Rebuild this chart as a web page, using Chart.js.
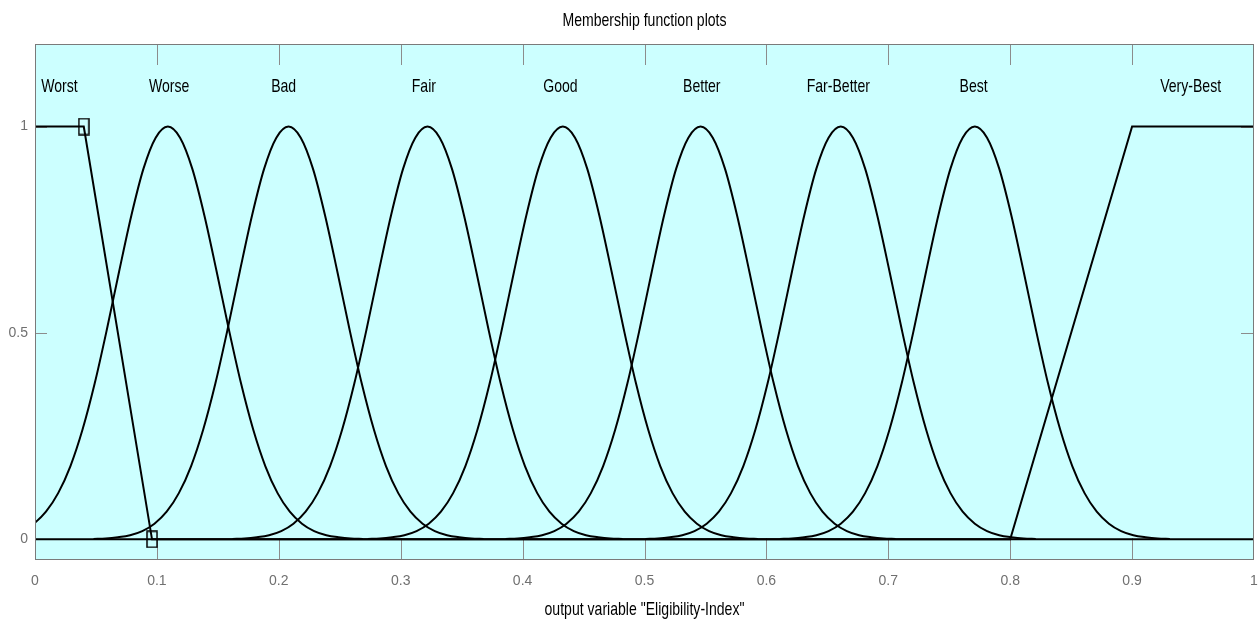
<!DOCTYPE html>
<html>
<head>
<meta charset="utf-8">
<title>Membership function plots</title>
<script src="https://cdn.jsdelivr.net/npm/chart.js@4.4.1/dist/chart.umd.min.js"></script>
<style>
  html, body { margin: 0; padding: 0; background: #fff; }
  #mfChart { display: block; }
</style>
</head>
<body>
<canvas id="mfChart" width="1258" height="620"></canvas>
<script>
// names of the output MFs, left to right
const mfNames = ['Worst', 'Worse', 'Bad', 'Fair', 'Good', 'Better', 'Far-Better', 'Best', 'Very-Best'];
// where each name is written (x), and the height of the name row
const labelX = [0.02, 0.11, 0.204, 0.319, 0.431, 0.547, 0.659, 0.77, 0.948];
const labelY = 1.1;

// gaussian MFs (Worse .. Best): peak positions
const bellCentres = [0.109, 0.208, 0.322, 0.433, 0.546, 0.661, 0.771];
// one bell: distance from the peak -> membership (all bells share it)
const bellOffsets = [-0.16, -0.15, -0.14, -0.13, -0.12, -0.11, -0.10, -0.09, -0.08, -0.07, -0.06, -0.05, -0.04, -0.03, -0.02, -0.01,
                     0, 0.01, 0.02, 0.03, 0.04, 0.05, 0.06, 0.07, 0.08, 0.09, 0.10, 0.11, 0.12, 0.13, 0.14, 0.15, 0.16];
const bellLevels  = [0.001, 0.002, 0.005, 0.010, 0.020, 0.038, 0.067, 0.112, 0.177, 0.266, 0.378, 0.509, 0.649, 0.784, 0.898, 0.973,
                     1, 0.973, 0.898, 0.784, 0.649, 0.509, 0.378, 0.266, 0.177, 0.112, 0.067, 0.038, 0.020, 0.010, 0.005, 0.002, 0.001];

// trapezoid MFs at both ends
const worstX = [0, 0.04, 0.096, 1];
const worstY = [1, 1, 0, 0];
const veryBestX = [0, 0.8, 0.9, 1];
const veryBestY = [0, 0, 1, 1];

const xTicks = [0, 0.1, 0.2, 0.3, 0.4, 0.5, 0.6, 0.7, 0.8, 0.9, 1];
const yTicks = [0, 0.5, 1];

const textFont = '"Liberation Sans", Arial, sans-serif';

function squareMarker() {
    const c = document.createElement('canvas');
    c.width = 12;
    c.height = 18;
    const g = c.getContext('2d');
    g.strokeStyle = '#000';
    g.lineWidth = 1.5;
    g.strokeRect(1, 1, 10, 16);
    return c;
}

function pairs(xs, ys) {
    return xs.map((x, i) => ({ x: x, y: ys[i] }));
}

// the old figure is squeezed sideways, so its text is narrow and tall
function narrowText(ctx, text, x, y) {
    ctx.save();
    ctx.translate(x, y);
    ctx.scale(0.74, 1);
    ctx.font = '19px ' + textFont;
    ctx.textAlign = 'center';
    ctx.textBaseline = 'alphabetic';
    ctx.fillStyle = '#000';
    ctx.fillText(text, 0, 0);
    ctx.restore();
}

const datasets = [];

// Worst: the selected MF, with its two corner handles
datasets.push({
    label: mfNames[0],
    data: pairs(worstX, worstY),
    borderColor: '#000',
    borderWidth: 2,
    tension: 0,
    pointStyle: squareMarker(),
    pointRadius: [0, 6, 6, 0],
    pointHoverRadius: 0
});

bellCentres.forEach((c, k) => {
    datasets.push({
        label: mfNames[k + 1],
        data: bellOffsets.map((d, i) => ({ x: c + d, y: bellLevels[i] })),
        borderColor: '#000',
        borderWidth: 2,
        cubicInterpolationMode: 'monotone',
        pointRadius: 0
    });
});

datasets.push({
    label: mfNames[8],
    data: pairs(veryBestX, veryBestY),
    borderColor: '#000',
    borderWidth: 2,
    tension: 0,
    pointRadius: 0
});

// cyan plot box, inward ticks, MF names and the titles
const mfPlot = {
    id: 'mfPlot',
    beforeDatasetsDraw(chart) {
        const { ctx, chartArea: a, scales } = chart;
        ctx.save();
        ctx.fillStyle = '#ccffff';
        ctx.fillRect(a.left, a.top, a.right - a.left, a.bottom - a.top);

        ctx.strokeStyle = '#8c8c8c';
        ctx.lineWidth = 1;
        ctx.beginPath();
        xTicks.slice(1, -1).forEach(v => {
            const px = Math.round(scales.x.getPixelForValue(v)) + 0.5;
            ctx.moveTo(px, a.top);
            ctx.lineTo(px, a.top + 21);
            ctx.moveTo(px, a.bottom);
            ctx.lineTo(px, a.bottom - 22);
        });
        yTicks.forEach(v => {
            const py = Math.round(scales.y.getPixelForValue(v)) + 0.5;
            ctx.moveTo(a.left, py);
            ctx.lineTo(a.left + 12, py);
            ctx.moveTo(a.right, py);
            ctx.lineTo(a.right - 13, py);
        });
        ctx.stroke();
        ctx.restore();
    },
    afterDraw(chart) {
        const { ctx, chartArea: a, scales } = chart;
        ctx.save();
        ctx.strokeStyle = '#7a7a7a';
        ctx.lineWidth = 1;
        ctx.strokeRect(a.left + 0.5, a.top + 0.5, a.right - a.left - 1, a.bottom - a.top - 1);
        ctx.restore();

        mfNames.forEach((name, i) => {
            narrowText(ctx, name, scales.x.getPixelForValue(labelX[i]), scales.y.getPixelForValue(labelY) + 7);
        });
        const mid = (a.left + a.right) / 2;
        narrowText(ctx, 'Membership function plots', mid, 26);
        narrowText(ctx, 'output variable "Eligibility-Index"', mid, 615);
    }
};

function noSidePadding(s) {
    s.paddingLeft = 0;
    s.paddingRight = 0;
    s.paddingTop = 0;
    s.paddingBottom = 0;
}

new Chart(document.getElementById('mfChart'), {
    type: 'line',
    data: { datasets: datasets },
    options: {
        responsive: false,
        animation: false,
        devicePixelRatio: 1,
        layout: { padding: { top: 44, right: 4, left: 0, bottom: 0 } },
        plugins: {
            legend: { display: false },
            tooltip: { enabled: false }
        },
        events: [],
        scales: {
            x: {
                type: 'linear',
                min: 0,
                max: 1,
                grid: { display: false, drawTicks: false },
                border: { display: false },
                afterBuildTicks: s => { s.ticks = xTicks.map(v => ({ value: v })); },
                afterFit: s => { s.height = 60; noSidePadding(s); },
                ticks: {
                    padding: 13,
                    color: '#707070',
                    font: { family: textFont, size: 14 },
                    maxRotation: 0,
                    callback: v => String(+v.toFixed(1))
                }
            },
            y: {
                type: 'linear',
                min: -0.05,
                max: 1.2,
                grid: { display: false, drawTicks: false },
                border: { display: false },
                afterBuildTicks: s => { s.ticks = yTicks.map(v => ({ value: v })); },
                afterFit: s => { s.width = 35; noSidePadding(s); },
                ticks: {
                    padding: 7,
                    color: '#707070',
                    font: { family: textFont, size: 14 },
                    callback: v => String(v)
                }
            }
        }
    },
    plugins: [mfPlot]
});
</script>
</body>
</html>
